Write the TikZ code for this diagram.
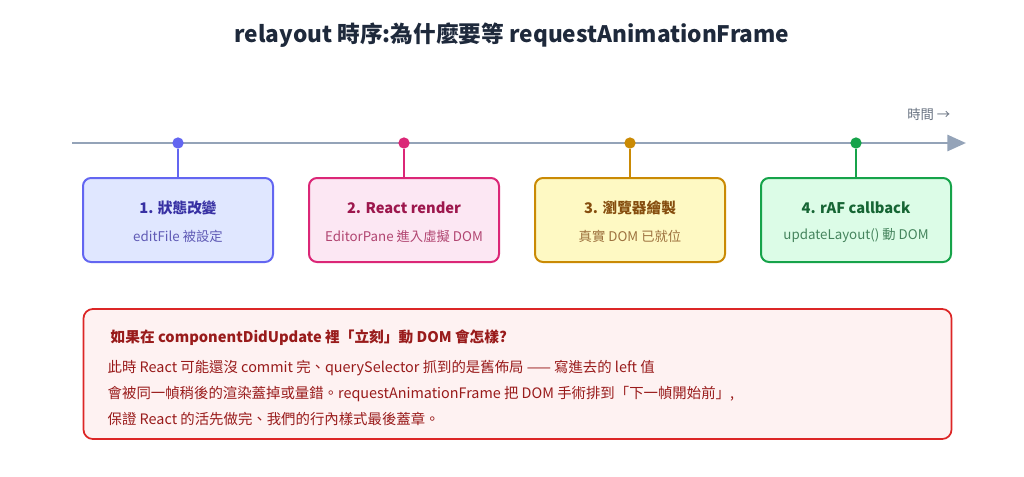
\documentclass[tikz,border=0pt]{standalone}
\usepackage{fontspec}
\setmainfont{Noto Sans CJK TC}
\usetikzlibrary{arrows.meta, positioning}
\definecolor{axis}{HTML}{94A3B8}
\definecolor{ink}{HTML}{1E293B}
\definecolor{bA}{HTML}{6366F1}\definecolor{fA}{HTML}{E0E7FF}\definecolor{tA}{HTML}{3730A3}
\definecolor{bB}{HTML}{DB2777}\definecolor{fB}{HTML}{FCE7F3}\definecolor{tB}{HTML}{9D174D}
\definecolor{bC}{HTML}{CA8A04}\definecolor{fC}{HTML}{FEF9C3}\definecolor{tC}{HTML}{854D0E}
\definecolor{bD}{HTML}{16A34A}\definecolor{fD}{HTML}{DCFCE7}\definecolor{tD}{HTML}{166534}
\definecolor{bE}{HTML}{DC2626}\definecolor{fE}{HTML}{FEF2F2}\definecolor{tE}{HTML}{991B1B}
\tikzset{
  step/.style = {draw=b#1, fill=f#1, line width=1.5pt, rounded corners=6pt,
    minimum width=142.5pt, minimum height=63pt},
  dot/.style = {circle, fill=#1, inner sep=0pt, minimum size=8.5pt}
}
\begin{document}
\begin{tikzpicture}[x=0.75pt, y=-0.75pt]
\useasboundingbox (0,0) rectangle (1024,476);
\node[text=ink, font=\fontsize{17}{20}\selectfont\bfseries] (title) at (512,35) {relayout 時序:為什麼要等 requestAnimationFrame};
\coordinate (t0) at (72,143);
\coordinate (t1) at (966,143);
\draw[axis, line width=2.2pt, -{Triangle[length=14pt, width=12pt]}] (t0) -- (t1);
\node[text=axis!70!black, font=\fontsize{10}{12}\selectfont, anchor=east] (time) at (955,114) {時間 →};
% steps
\foreach \n/\x/\head/\sub in {A/178/1. 狀態改變/editFile 被設定,
    B/404/2. React render/EditorPane 進入虛擬 DOM,
    C/630/3. 瀏覽器繪製/真實 DOM 已就位,
    D/856/4. rAF callback/updateLayout() 動 DOM} {
  \node[step=\n] (box\n) at (\x,220) {};
  \node[dot=b\n] (dot\n) at (\x,143) {};
  \draw[b\n, line width=1.5pt] (dot\n) -- (box\n.north);
  \node[text=t\n, font=\fontsize{11}{13}\selectfont\bfseries] (head\n) at (\x,208) {\head};
  \node[text=t\n!80!white, font=\fontsize{10}{12}\selectfont] (sub\n) at (\x,236) {\sub};
}
% note
\node[draw=bE, fill=fE, line width=1.3pt, rounded corners=7pt,
  minimum width=651pt, minimum height=97.5pt] (note) at (517.5,374) {};
\node[text=tE, font=\fontsize{11}{13}\selectfont\bfseries, anchor=west] (qhead) at (106,338) {如果在 componentDidUpdate 裡「立刻」動 DOM 會怎樣?};
\node[text=tE, font=\fontsize{10.8}{19.5}\selectfont, anchor=north west, align=left] (qbody) at (103,356)
  {此時 React 可能還沒 commit 完、querySelector 抓到的是舊佈局 —— 寫進去的 left 值\\
   會被同一幀稍後的渲染蓋掉或量錯。requestAnimationFrame 把 DOM 手術排到「下一幀開始前」,\\
   保證 React 的活先做完、我們的行內樣式最後蓋章。};
\end{tikzpicture}
\end{document}
